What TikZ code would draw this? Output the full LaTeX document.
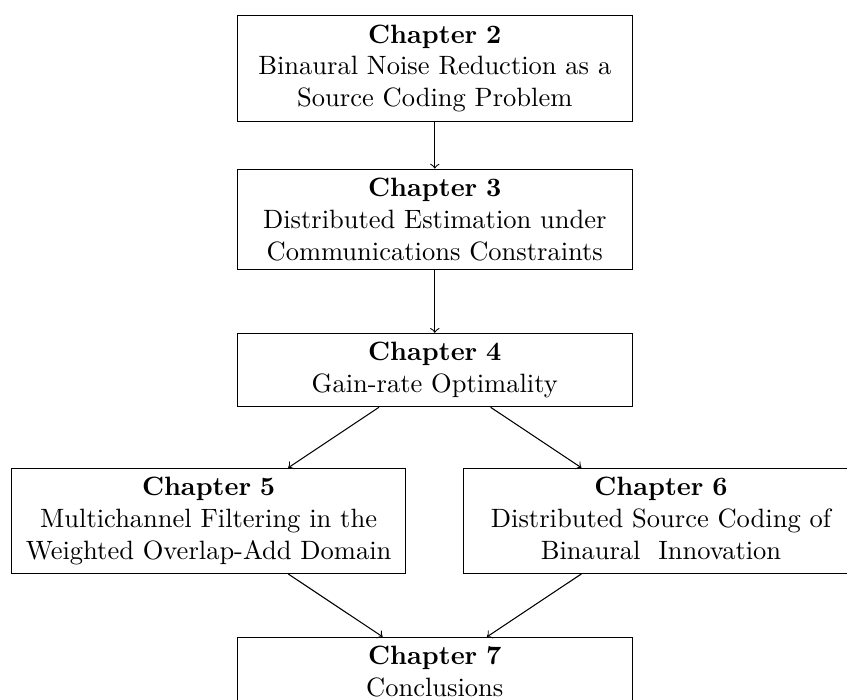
\documentclass[tikz,border=0pt]{standalone}
\begin{document}
\begin{tikzpicture}[
  chap/.style={draw, text width=5cm, align=center, inner sep=0.333em},
  link/.style={->}
]
\clip (-164.08pt,25.84pt) rectangle (155.55pt,-238.31pt);
\node[chap] (c2) at (0,0) {\textbf{Chapter 2}\\Binaural Noise Reduction as a\\Source Coding Problem};
\node[chap] (c3) at (0,-2) {\textbf{Chapter 3}\\Distributed Estimation under\\Communications Constraints};
\node[chap] (c4) at (0,-4) {\textbf{Chapter 4}\\Gain-rate Optimality};
\node[chap] (c5) at (-3,-6) {\textbf{Chapter 5}\\Multichannel Filtering in the\\Weighted Overlap-Add Domain};
\node[chap] (c6) at (3,-6) {\textbf{Chapter 6}\\Distributed Source Coding of\\Binaural~ Innovation\vphantom{g}};
\node[chap] (c7) at (0,-8) {\textbf{Chapter 7}\\Conclusions};
\draw[link] (c2) -- (c3);
\draw[link] (c3) -- (c4);
\draw[link] (c4) -- (c5);
\draw[link] (c4) -- (c6);
\draw[link] (c5) -- (c7);
\draw[link] (c6) -- (c7);
\end{tikzpicture}
\end{document}
